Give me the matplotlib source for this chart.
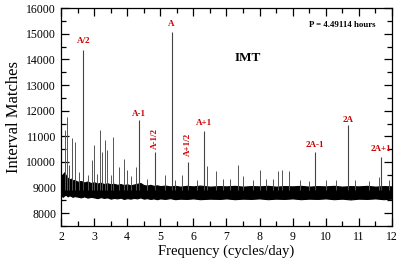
import numpy as np
import matplotlib
matplotlib.use("Agg")
from matplotlib import pyplot as plt
from matplotlib.ticker import MultipleLocator

plt.rcParams['font.family'] = ['Liberation Serif', 'DejaVu Serif']

# noise band envelope (frequency, lower, upper)
band_freq = [2.0, 2.05, 2.1, 2.15, 2.2, 2.25, 2.3, 2.35, 2.4, 2.5, 2.6, 2.7, 2.8, 2.9, 3.0,
             3.1, 3.2, 3.3, 3.4, 3.5, 3.6, 3.7, 3.8, 3.9, 4.0, 4.1, 4.2, 4.3, 4.4, 4.5,
             4.6, 4.7, 4.8, 4.9, 5.0, 5.15, 5.3, 5.45, 5.6, 5.8, 6.0, 6.2, 6.5, 6.8, 7.0,
             7.25, 7.5, 7.75, 8.0, 8.25, 8.5, 8.75, 9.0, 9.25, 9.5, 9.75, 10.0, 10.25, 10.5,
             10.75, 11.0, 11.25, 11.5, 11.75, 12.0]
band_low = [8720, 8640, 8700, 8720, 8660, 8700, 8680, 8640, 8670, 8650, 8620, 8660, 8610, 8640, 8620,
            8590, 8630, 8600, 8620, 8570, 8600, 8580, 8610, 8560, 8590, 8570, 8600, 8580, 8620, 8570,
            8590, 8560, 8580, 8550, 8580, 8560, 8590, 8550, 8570, 8560, 8580, 8550, 8570, 8560, 8580,
            8550, 8570, 8560, 8580, 8550, 8570, 8560, 8580, 8550, 8570, 8560, 8580, 8550, 8570,
            8540, 8570, 8560, 8580, 8550, 8570]
band_high = [9350, 9520, 9600, 9450, 9380, 9320, 9350, 9280, 9300, 9230, 9260, 9200, 9240, 9180, 9210,
             9160, 9190, 9140, 9170, 9130, 9150, 9110, 9140, 9100, 9130, 9090, 9120, 9150, 9180, 9100,
             9080, 9110, 9070, 9090, 9060, 9080, 9050, 9070, 9040, 9070, 9050, 9080, 9040, 9060, 9050,
             9070, 9040, 9060, 9050, 9070, 9040, 9060, 9050, 9070, 9040, 9060, 9050, 9070, 9040,
             9060, 9050, 9070, 9040, 9060, 9050]

# named peaks
peak_freq = [2.67, 5.34, 4.35, 4.84, 5.84, 6.33, 9.67, 10.68, 11.67]
peak_height = [14380, 15080, 11650, 10400, 10010, 11200, 10380, 11440, 10180]

# other spikes
spike_freq = [2.12, 2.17, 2.34, 2.42, 2.95, 3.01, 3.18, 3.23, 3.33, 3.38, 3.57, 3.74,
              3.89, 3.99, 4.28, 5.14, 5.66, 6.42, 6.67, 7.34, 7.49, 8.01, 8.21, 8.56,
              8.67, 8.89, 9.21, 2.25, 2.55, 2.8, 3.1, 3.5, 4.1, 4.6, 5.45, 6.1, 6.9,
              7.1, 7.8, 8.4, 9.5, 10.0, 10.3, 10.9, 11.3, 11.6, 11.9]
spike_height = [11240, 11760, 10920, 10790, 10070, 10660, 11240, 10400, 10850, 10470, 10980, 9820,
                10100, 9690, 9820, 9490, 9490, 9850, 9660, 9880, 9450, 9690, 9320, 9650,
                9690, 9660, 9290, 9900, 9600, 9500, 9550, 9500, 9450, 9350, 9300, 9300, 9350,
                9320, 9300, 9350, 9250, 9300, 9280, 9300, 9270, 9400, 9300]

# labels
label_text = ['A/2', 'A', 'A-1', 'A-1/2', 'A+1/2', 'A+1', '2A-1', '2A', '2A+1']
label_x = [2.67, 5.33, 4.35, 4.84, 5.83, 6.33, 9.67, 10.68, 11.67]
label_y = [14700, 15380, 11870, 10930, 10700, 11520, 10660, 11640, 10500]
label_rot = [0, 0, 0, 90, 90, 0, 0, 0, 0]

fig = plt.figure(figsize=(3.99, 2.62), dpi=100)
ax = fig.add_axes([0.153, 0.137, 0.829, 0.832])

ax.fill_between(band_freq, band_low, band_high, color='black', linewidth=0.8)
ax.vlines(spike_freq, 8900, spike_height, color='#555555', linewidth=0.7)
ax.vlines(peak_freq, 8900, peak_height, color='#444444', linewidth=0.8)

for t, x, y, r in zip(label_text, label_x, label_y, label_rot):
    ax.text(x, y, t, color='#cc0000', fontsize=6.5, fontweight='bold',
            ha='center', va='center', rotation=r)

ax.text(7.65, 14050, 'IMT', fontsize=9.5, fontweight='bold', ha='center', va='center')
ax.text(10.49, 15340, 'P = 4.49114 hours', fontsize=6.3, fontweight='bold',
        ha='center', va='center')

ax.set_xlim(2, 12)
ax.set_ylim(7500, 16000)
ax.xaxis.set_major_locator(MultipleLocator(1))
ax.xaxis.set_minor_locator(MultipleLocator(0.5))
ax.yaxis.set_major_locator(MultipleLocator(1000))
ax.yaxis.set_minor_locator(MultipleLocator(500))
ax.tick_params(which='both', direction='in', top=True, right=True, labelsize=8.5, width=0.9)
ax.tick_params(which='major', length=6)
ax.tick_params(which='minor', length=3.5)
for s in ax.spines.values():
    s.set_linewidth(0.9)

ax.set_xlabel('Frequency (cycles/day)', fontsize=10.5, labelpad=1)
ax.set_ylabel('Interval Matches', fontsize=12, labelpad=3)

fig.savefig('out.png', dpi=100)
